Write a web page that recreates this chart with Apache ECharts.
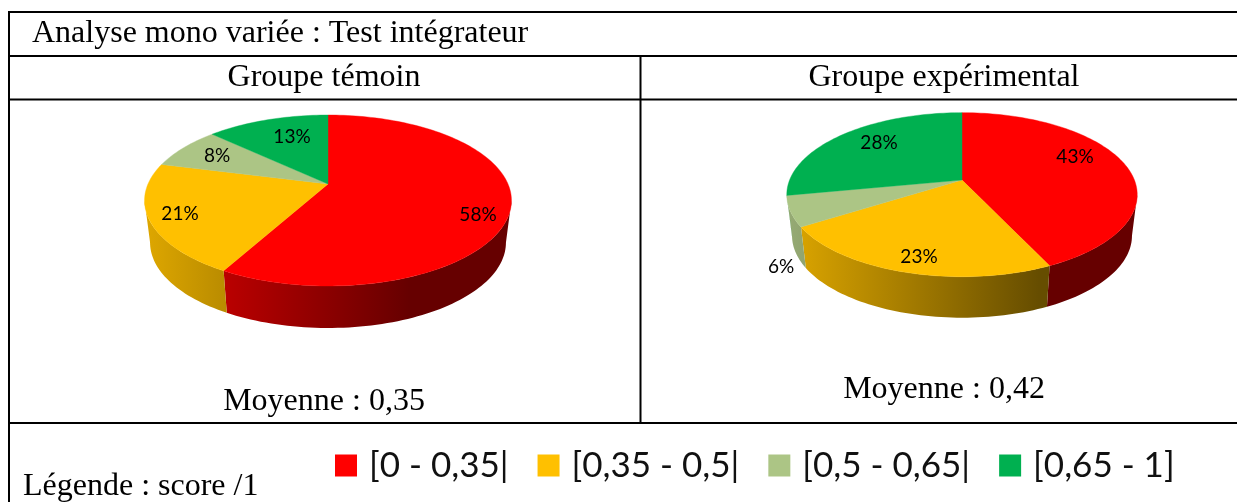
<!DOCTYPE html>
<html><head><meta charset="utf-8">
<style>html,body{margin:0;padding:0;background:#fff}#c{width:1237px;height:502px}</style>
<script src="https://cdn.jsdelivr.net/npm/echarts@6/dist/echarts.min.js"></script>
</head><body><div id="c"></div>
<script>
const categories = ['[0 - 0,35|', '[0,35 - 0,5|', '[0,5 - 0,65|', '[0,65 - 1]'];
const groupNames = ['Groupe témoin', 'Groupe expérimental'];
const groupTemoin = [58, 21, 8, 13];
const groupExperimental = [43, 23, 6, 28];
const means = ['Moyenne : 0,35', 'Moyenne : 0,42'];
const colors = ['#ff0000', '#ffc000', '#acc585', '#00b050'];

const groups = [groupTemoin, groupExperimental];
const pies = [
  {cx: 328, cy: 184, R: 180, H: 82.3, c: -0.193, depth: 42, left: 145, width: 367,
   labels: [[150, 31], [-148, 30], [-111, -28], [-36, -47]]},
  {cx: 962, cy: 180, R: 172.4, H: 79.4, c: -0.179, depth: 41, left: 787, width: 350,
   labels: [[113, -23], [-43, 77], [-181, 87], [-83, -37]]}
];
const baseScale = 0.97;

function project(p, deg) {
  const t = deg * Math.PI / 180, u = Math.sin(t), v = -Math.cos(t), w = 1 + p.c * v;
  return [p.cx + p.R * u / w, p.cy + p.H * v / w];
}
function arc(p, a, b) {
  const pts = [], n = Math.max(2, Math.ceil(Math.abs(b - a) / 1.5));
  for (let i = 0; i <= n; i++) pts.push(project(p, a + (b - a) * i / n));
  return pts;
}
function shade(hex, k) {
  const n = parseInt(hex.slice(1), 16);
  return 'rgb(' + [(n >> 16) & 255, (n >> 8) & 255, n & 255].map(x => Math.round(x * k)).join(',') + ')';
}
function renderSlice(catIndex) {
  return function (params, api) {
    const g = api.value(0), val = api.value(1), p = pies[g], vals = groups[g];
    const total = vals.reduce((s, x) => s + x, 0);
    const before = vals.slice(0, catIndex).reduce((s, x) => s + x, 0);
    const a = before / total * 360, b = (before + val) / total * 360;
    const col = colors[catIndex], rim = arc(p, a, b), children = [];
    const vis = Math.acos(p.c) * 180 / Math.PI;
    const s = Math.max(a, vis), e = Math.min(b, 360 - vis);
    if (e > s) {
      const front = arc(p, s, e);
      const back = front.map(q => [p.cx + (q[0] - p.cx) * baseScale, q[1] + p.depth]).reverse();
      children.push({type: 'polygon', shape: {points: front.concat(back)}, style: {
        fill: {type: 'linear', global: true, x: p.left, y: 0, x2: p.left + p.width * 0.72, y2: 0,
          colorStops: [{offset: 0, color: shade(col, 0.87)}, {offset: 1, color: shade(col, 0.4)}]}
      }});
    }
    children.push({type: 'polygon', shape: {points: [[p.cx, p.cy]].concat(rim)},
      style: {fill: col, stroke: col, lineWidth: 0.4}, z2: 2});
    const l = p.labels[catIndex];
    children.push({type: 'text', z2: 5, style: {x: p.cx + l[0], y: p.cy + l[1], text: val + '%',
      fill: '#000', font: '19px Lato', textAlign: 'center', textVerticalAlign: 'middle'}});
    return {type: 'group', children};
  };
}

const serif = 'Liberation Serif';
const texts = [
  {x: 32, y: 34, t: 'Analyse mono variée : Test intégrateur', a: 'left'},
  {x: 324, y: 78, t: groupNames[0], a: 'center'},
  {x: 944, y: 78, t: groupNames[1], a: 'center'},
  {x: 324, y: 402, t: means[0], a: 'center'},
  {x: 944, y: 390, t: means[1], a: 'center'},
  {x: 23, y: 487, t: 'Légende : score /1', a: 'left'}
];
const lines = [[8, 12, 1237, 12], [8, 56, 1237, 56], [8, 99.5, 1237, 99.5], [8, 423, 1237, 423], [9, 12, 9, 502], [640.5, 56, 640.5, 423]];

const chart = echarts.init(document.getElementById('c'), null, {renderer: 'canvas'});
chart.setOption({
  animation: false,
  backgroundColor: '#fff',
  legend: {
    left: 335, top: 448, padding: 0, itemWidth: 22, itemHeight: 22, itemGap: 29,
    icon: 'rect',
    data: categories,
    textStyle: {fontFamily: 'Lato', fontSize: 35, color: '#111', padding: [0, 0, 0, 7]}
  },
  graphic: lines.map(l => ({type: 'line', shape: {x1: l[0], y1: l[1], x2: l[2], y2: l[3]}, style: {stroke: '#000', lineWidth: 2}}))
    .concat(texts.map(t => ({type: 'text', style: {x: t.x, y: t.y, text: t.t, font: '32px "' + serif + '"', fill: '#000', textAlign: t.a, textVerticalAlign: 'middle'}}))),
  series: categories.map((name, i) => ({
    type: 'custom', name, coordinateSystem: 'none',
    itemStyle: {color: colors[i]},
    renderItem: renderSlice(i),
    data: groups.map((g, k) => [k, g[i]])
  }))
});
</script></body></html>
